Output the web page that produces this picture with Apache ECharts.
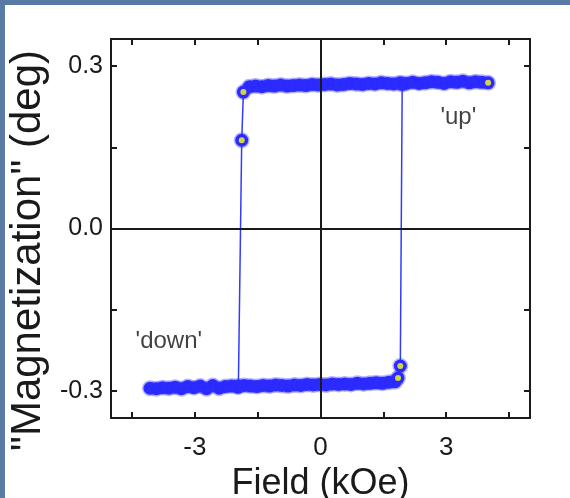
<!DOCTYPE html>
<html>
<head>
<meta charset="utf-8">
<script src="https://cdn.jsdelivr.net/npm/echarts@6/dist/echarts.min.js"></script>
<style>
  html, body { margin: 0; padding: 0; width: 570px; height: 498px; background: #5a7aa6; overflow: hidden; }
  #myChart { position: absolute; left: 5px; top: 5px; width: 565px; height: 493px; background: #ffffff; }
</style>
</head>
<body>
<div id="myChart"></div>
<script>
// upper branch (field swept down from +4 kOe), ends with the switch
const upperField = [4.0, 3.85, 3.7, 3.55, 3.4, 3.25, 3.1, 2.95, 2.8, 2.65, 2.5, 2.35, 2.2, 2.05, 1.9, 1.75, 1.6, 1.45, 1.3, 1.15,
  1.0, 0.85, 0.7, 0.55, 0.4, 0.25, 0.1, -0.05, -0.2, -0.35, -0.5, -0.65, -0.8, -0.95, -1.1, -1.25, -1.4, -1.55, -1.7, -1.84,
  -1.88, -1.96];
const upperMag = [0.269, 0.270, 0.271, 0.269, 0.272, 0.270, 0.271, 0.268, 0.270, 0.271, 0.269, 0.268, 0.270, 0.268, 0.269, 0.267, 0.268, 0.269, 0.267, 0.268,
  0.266, 0.267, 0.268, 0.266, 0.265, 0.267, 0.266, 0.265, 0.266, 0.264, 0.265, 0.264, 0.263, 0.265, 0.263, 0.264, 0.262, 0.263, 0.262, 0.252,
  0.163, -0.291];

// lower branch (field swept up from -4 kOe), ends with the switch
const lowerField = [-4.07, -3.92, -3.77, -3.62, -3.47, -3.32, -3.17, -3.02, -2.87, -2.72, -2.57, -2.42, -2.27, -2.12, -1.97, -1.82, -1.67, -1.52, -1.37, -1.22,
  -1.07, -0.92, -0.77, -0.62, -0.47, -0.32, -0.17, -0.02, 0.13, 0.28, 0.43, 0.58, 0.73, 0.88, 1.03, 1.18, 1.33, 1.48, 1.63, 1.78,
  1.85, 1.905, 1.95];
const lowerMag = [-0.295, -0.296, -0.294, -0.295, -0.293, -0.296, -0.292, -0.294, -0.291, -0.296, -0.290, -0.295, -0.292, -0.291, -0.293, -0.290, -0.291, -0.292, -0.290, -0.291,
  -0.289, -0.290, -0.291, -0.289, -0.290, -0.288, -0.289, -0.288, -0.289, -0.287, -0.288, -0.287, -0.288, -0.286, -0.287, -0.286, -0.285, -0.286, -0.284, -0.283,
  -0.276, -0.254, 0.266];

// yellow marked points
const markField = [4.0, -1.84, -1.88, 1.85, 1.905];
const markMag = [0.269, 0.252, 0.163, -0.276, -0.254];

// tick positions and labels
const xTicks = [-4.5, -3, -1.5, 0, 1.5, 3, 4.5];
const xLabels = [-3, 0, 3];
const yTicks = [-0.3, -0.15, 0, 0.15, 0.3];
const yLabels = [-0.3, 0, 0.3];

// text notes in the plot
const noteText = ["'up'", "'down'"];
const noteField = [3.29, -3.62];
const noteMag = [0.205, -0.208];

const FONT = "Liberation Sans, Arial, sans-serif";
const INK = "#1a1a1a";

function pairs(xs, ys) {
  return xs.map((x, i) => [x, ys[i]]);
}

function axisX(pos, withLabels) {
  return {
    type: "value",
    position: pos,
    min: -5,
    max: 5,
    axisLine: { show: true, onZero: false, lineStyle: { color: INK, width: 2 } },
    axisTick: { show: true, inside: true, length: 6, customValues: xTicks, lineStyle: { color: INK, width: 2 } },
    axisLabel: {
      show: withLabels,
      customValues: xLabels,
      formatter: (v) => String(v),
      fontSize: 26,
      color: INK,
      fontFamily: FONT,
      margin: 17,
    },
    splitLine: { show: false },
    name: withLabels ? "Field (kOe)" : "",
    nameLocation: "middle",
    nameGap: 45,
    nameTextStyle: { fontSize: 36, color: INK, fontFamily: FONT },
  };
}

function axisY(pos, withLabels) {
  return {
    type: "value",
    position: pos,
    min: -0.35,
    max: 0.35,
    axisLine: { show: true, onZero: false, lineStyle: { color: INK, width: 2 } },
    axisTick: { show: true, inside: true, length: 6, customValues: yTicks, lineStyle: { color: INK, width: 2 } },
    axisLabel: {
      show: withLabels,
      customValues: yLabels,
      formatter: (v) => v.toFixed(1),
      fontSize: 25,
      color: INK,
      fontFamily: FONT,
      margin: 8,
    },
    splitLine: { show: false },
    name: withLabels ? '"Magnetization" (deg)' : "",
    nameLocation: "middle",
    nameGap: 62,
    nameTextStyle: { fontSize: 42, color: INK, fontFamily: FONT, padding: [0, 44, 0, 0] },
  };
}

const branchStyle = {
  type: "line",
  symbol: "circle",
  symbolSize: 13,
  showSymbol: true,
  animation: false,
  itemStyle: { color: "#2a2aff", borderColor: "rgba(50,50,255,0.35)", borderWidth: 3 },
  lineStyle: { color: "#2f3bff", width: 1.5 },
  emphasis: { disabled: true },
  z: 2,
};

const option = {
  animation: false,
  grid: { left: 106, right: 40, top: 34, bottom: 80, outerBoundsMode: "none", containLabel: false },
  xAxis: [axisX("bottom", true), axisX("top", false)],
  yAxis: [axisY("left", true), axisY("right", false)],
  series: [
    Object.assign({ name: "upper", data: pairs(upperField, upperMag) }, branchStyle),
    Object.assign({ name: "lower", data: pairs(lowerField, lowerMag) }, branchStyle),
    {
      type: "scatter",
      data: pairs(markField, markMag),
      symbolSize: 6,
      itemStyle: { color: "#ffff10" },
      z: 4,
    },
    {
      // zero lines
      type: "line",
      data: [],
      z: 3,
      markLine: {
        silent: true,
        symbol: ["none", "none"],
        label: { show: false },
        lineStyle: { color: INK, width: 2, type: "solid" },
        data: [{ xAxis: 0 }, { yAxis: 0 }],
      },
    },
    {
      type: "scatter",
      symbolSize: 0,
      silent: true,
      data: noteText.map((t, i) => ({ value: [noteField[i], noteMag[i]], name: t })),
      label: {
        show: true,
        position: "inside",
        formatter: (p) => p.name,
        fontSize: 24,
        color: "#111",
        textBorderWidth: 0,
        fontFamily: FONT,
      },
      z: 5,
    },
  ],
};

const myChart = echarts.init(document.getElementById("myChart"));
myChart.setOption(option);
</script>
</body>
</html>
